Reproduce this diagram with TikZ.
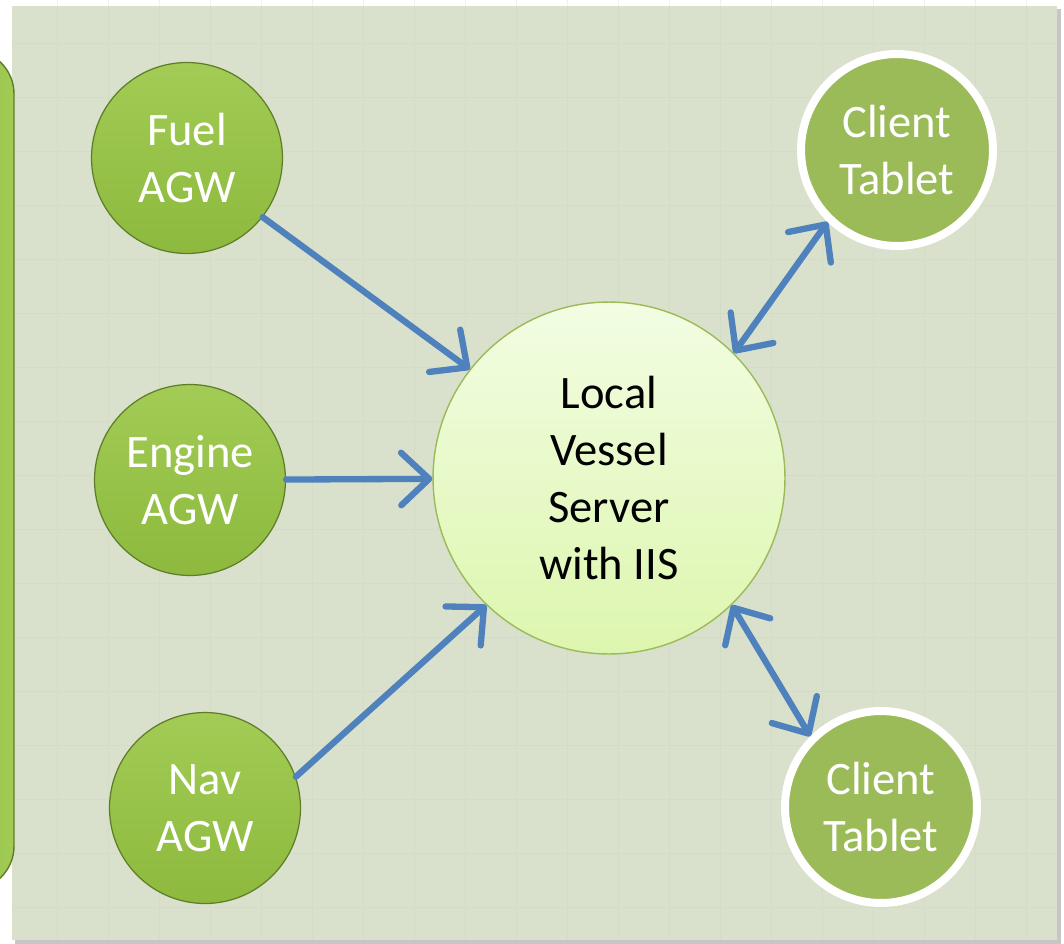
\documentclass[tikz,border=0pt]{standalone}
\usepackage{fontspec}
\setmainfont{Carlito}
\usepackage{tikz}
\usetikzlibrary{arrows.meta, shadows}

\definecolor{panel}{HTML}{D9E1CC}
\definecolor{gridc}{HTML}{D3DCC6}
\definecolor{agwtop}{HTML}{A2CC55}
\definecolor{agwbot}{HTML}{8DB93E}
\definecolor{agwrim}{HTML}{5E7D27}
\definecolor{srvtop}{HTML}{F2FDE3}
\definecolor{srvbot}{HTML}{DDF6AE}
\definecolor{olive}{HTML}{9BBB59}
\definecolor{linkblue}{HTML}{4F81BD}

\begin{document}
\begin{tikzpicture}[x=0.02cm, y=-0.02cm,
    font=\fontsize{26.5}{32.5}\selectfont,
    agw/.style={circle, minimum size=3.82cm, inner sep=0pt, align=center,
      text=white, top color=agwtop, bottom color=agwbot, draw=agwrim, line width=0.7pt},
    srv/.style={circle, minimum size=7.04cm, inner sep=0pt, align=center,
      top color=srvtop, bottom color=srvbot, draw=olive, line width=0.8pt},
    client/.style={circle, minimum size=3.84cm, inner sep=0pt, align=center,
      text=white, fill=olive, draw=white, line width=0.16cm,
      drop shadow={opacity=0.35, shadow xshift=1.2pt, shadow yshift=-1.6pt}},
    link/.style={draw=linkblue, line width=3.6pt, line cap=round,
      -{Straight Barb[length=5.6mm, width=10.5mm, round]}},
    duplex/.style={link, {Straight Barb[length=5.6mm, width=10.5mm, round]}-{Straight Barb[length=5.6mm, width=10.5mm, round]}}]
  \useasboundingbox (0,0) rectangle (1064,943);
  \clip (0,0) rectangle (1064,943);

  % sheet behind the drawing
  \fill[white] (0,0) rectangle (1064,943);
  \foreach \gx in {57,108,...,1064}
    \draw[gray!12, line width=0.4pt] (\gx,0) -- (\gx,943);
  \fill[gray!45] (15,9) rectangle (1061,944);
  \fill[panel] (12,6) rectangle (1057,940);
  \foreach \gx in {57,108,...,1057}
    \draw[gridc, line width=0.5pt] (\gx,6) -- (\gx,940);
  \foreach \gy in {43,97,...,940}
    \draw[gridc, line width=0.5pt] (12,\gy) -- (1057,\gy);

  % bar on the left
  \draw[agwrim, line width=0.8pt, left color=agwbot, right color=agwtop,
    rounded corners=25pt] (-60,50) rectangle (14,890);

  \node[agw] (fuel)   at (187,158) {Fuel\\AGW};
  \node[agw] (engine) at (190,480) {Engine\\AGW};
  \node[agw] (nav)    at (205,808) {Nav\\AGW};
  \node[srv] (server) at (609,478) {Local\\Vessel\\Server\\with IIS};
  \node[client] (tabA) at (897,150) {Client\\Tablet};
  \node[client] (tabB) at (881,807) {Client\\Tablet};

  \draw[link] (fuel.-38) -- (server.142);
  \draw[link] (engine) -- (server);
  \draw[link] (nav.19) -- (server.226);
  \draw[duplex] (server.45) -- (tabA.226);
  \draw[duplex] (server.-46) -- (tabB.135);
\end{tikzpicture}
\end{document}
